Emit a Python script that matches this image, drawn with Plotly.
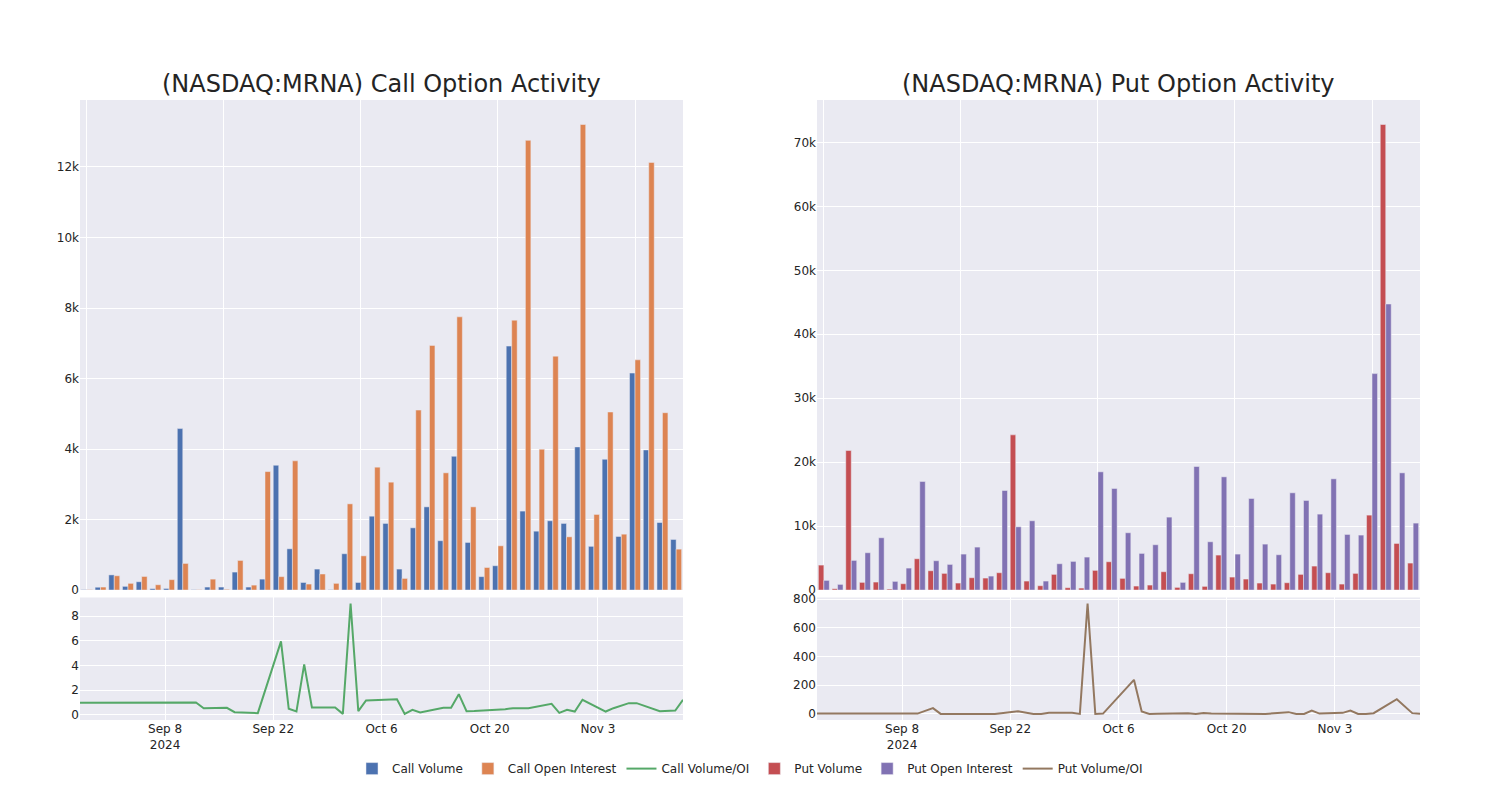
import plotly.graph_objects as go
from plotly.subplots import make_subplots

dates = ["2024-08-28", "2024-09-10", "2024-09-12", "2024-09-13", "2024-09-16", "2024-09-17",
         "2024-09-20", "2024-09-23", "2024-09-24", "2024-09-25", "2024-09-26", "2024-09-27",
         "2024-09-30", "2024-10-01", "2024-10-02", "2024-10-03", "2024-10-04", "2024-10-08",
         "2024-10-09", "2024-10-10", "2024-10-11", "2024-10-14", "2024-10-15", "2024-10-16",
         "2024-10-17", "2024-10-18", "2024-10-21", "2024-10-22", "2024-10-23", "2024-10-24",
         "2024-10-25", "2024-10-28", "2024-10-29", "2024-10-30", "2024-10-31", "2024-11-01",
         "2024-11-04", "2024-11-05", "2024-11-06", "2024-11-07", "2024-11-08", "2024-11-11",
         "2024-11-13", "2024-11-14"]

call_volume = [10, 80, 430, 105, 235, 40, 45, 4580, 10, 85, 85, 510, 85, 310, 3540, 1170,
               215, 595, 10, 1030, 215, 2095, 1890, 595, 1765, 2360, 1400, 3795, 1350, 380,
               690, 6920, 2240, 1670, 1965, 1890, 4060, 1240, 3710, 1520, 6155, 3975, 1915, 1435]
call_oi = [10, 85, 405, 190, 385, 150, 295, 755, 10, 310, 20, 840, 140, 3360, 380, 3665,
           170, 455, 190, 2445, 970, 3485, 3060, 330, 5105, 6940, 3325, 7750, 2360, 640,
           1255, 7655, 12755, 3995, 6635, 1510, 13205, 2145, 5050, 1585, 6530, 12130, 5030, 1160]
call_ratio = [0.98, 1.0, 1.0, 0.54, 0.57, 0.22, 0.14, 5.96, 0.49, 0.27, 4.09, 0.6, 0.6, 0.08,
              9.02, 0.3, 1.17, 1.27, 0.08, 0.41, 0.19, 0.57, 0.57, 1.68, 0.3, 0.32, 0.38, 0.46,
              0.54, 0.54, 0.54, 0.89, 0.16, 0.41, 0.27, 1.22, 0.27, 0.54, 0.75, 0.95, 0.95, 0.3,
              0.35, 1.22]

put_volume = [3905, 210, 21820, 1200, 1250, 155, 990, 4895, 3020, 2605, 1095, 1925, 1875,
              2710, 24270, 1405, 675, 2450, 365, 310, 3075, 4425, 1825, 625, 780, 2865, 415,
              2550, 575, 5470, 2030, 1720, 1095, 935, 1145, 2450, 3750, 2710, 935, 2605, 11720,
              72810, 7290, 4220]
put_oi = [1510, 885, 4635, 5835, 8175, 1355, 3435, 16980, 4585, 4010, 5625, 6720, 2185,
          15570, 9895, 10835, 1405, 4115, 4480, 5155, 18490, 15885, 8960, 5730, 7085, 11405,
          1200, 19320, 7550, 17705, 5625, 14320, 7185, 5520, 15210, 14010, 11875, 17395, 8695,
          8595, 33850, 44735, 18330, 10470]
put_ratio = [3, 2, 40, 0, 0, 0, 0, 19, 10, 0, 0, 7, 7, 0, 768, 0, 2, 237, 16, 0, 1, 3, 5,
             0, 6, 2, 2, 1, 1, 1, 0, 12, 0, 0, 23, 2, 7, 23, 0, 0, 5, 102, 5, 0]

titles = ["(NASDAQ:MRNA) Call Option Activity", "(NASDAQ:MRNA) Put Option Activity"]

fig = make_subplots(rows=2, cols=2, row_heights=[0.8, 0.2], vertical_spacing=0.012,
                    horizontal_spacing=0.1, subplot_titles=titles + ["", ""])

fig.add_trace(go.Bar(x=dates, y=call_volume, name="Call Volume"), row=1, col=1)
fig.add_trace(go.Bar(x=dates, y=call_oi, name="Call Open Interest"), row=1, col=1)
fig.add_trace(go.Scatter(x=dates, y=call_ratio, mode="lines", name="Call Volume/OI"), row=2, col=1)
fig.add_trace(go.Bar(x=dates, y=put_volume, name="Put Volume"), row=1, col=2)
fig.add_trace(go.Bar(x=dates, y=put_oi, name="Put Open Interest"), row=1, col=2)
fig.add_trace(go.Scatter(x=dates, y=put_ratio, mode="lines", name="Put Volume/OI"), row=2, col=2)

fig.update_layout(
    template="seaborn",
    width=1500, height=800,
    font=dict(family="DejaVu Sans"),
    margin=dict(l=72, r=88, t=92, b=88),
    legend=dict(orientation="h", x=0.5, xanchor="center", y=-0.055, yanchor="top"),
)
for c in (1, 2):
    fig.update_xaxes(type="category", showticklabels=False, tickmode="linear", tick0=0,
                     dtick=10, row=1, col=c)
    fig.update_xaxes(type="date", row=2, col=c)
for a in fig.layout.annotations:
    a.font = dict(size=24, family="DejaVu Sans")

fig.write_html("out.html")
